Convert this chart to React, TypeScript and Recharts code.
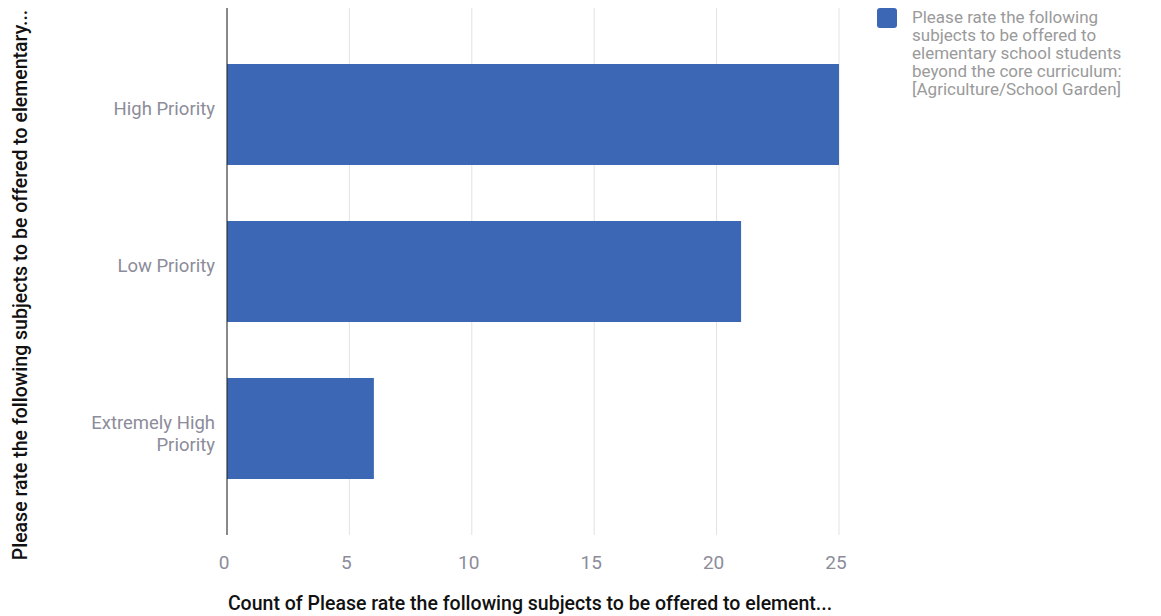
import React from 'react';
import { BarChart, Bar, XAxis, YAxis, CartesianGrid, Legend, Text } from 'recharts';

const categories = ['High Priority', 'Low Priority', 'Extremely High Priority'];
const counts = [25, 21, 6];
const xTicks = [0, 5, 10, 15, 20, 25];
const seriesName =
  'Please rate the following subjects to be offered to elementary school students beyond the core curriculum: [Agriculture/School Garden]';
const legendLines = [
  'Please rate the following',
  'subjects to be offered to',
  'elementary school students',
  'beyond the core curriculum:',
  '[Agriculture/School Garden]',
];
const xTitle = 'Count of Please rate the following subjects to be offered to element...';
const yTitle = 'Please rate the following subjects to be offered to elementary...';

const data = categories.map((c, i) => ({ name: c, count: counts[i] }));

const FONT = 'Roboto, "Noto Sans", sans-serif';
const BAR = '#3b67b4';

const CatTick = (props: any) => {
  const { x, y, payload } = props;
  return (
    <Text
      x={x - 4}
      y={y}
      width={150}
      textAnchor="end"
      verticalAnchor="middle"
      fill="#8c8c9a"
      fontSize={18.5}
      fontFamily={FONT}
      lineHeight={22}
    >
      {payload.value}
    </Text>
  );
};

const NumTick = (props: any) => {
  const { x, y, payload } = props;
  return (
    <text x={x - 3} y={y + 26} textAnchor="middle" fill="#8c8c9a" fontSize={19} fontFamily={FONT}>
      {payload.value}
    </text>
  );
};

const LegendContent = () => (
  <div style={{ display: 'flex', fontFamily: FONT }}>
    <div style={{ width: 20, height: 20, background: BAR, borderRadius: 3, flex: 'none' }} />
    <div style={{ marginLeft: 15, color: '#9a9a9a', fontSize: 17, lineHeight: '18px' }}>
      {legendLines.map((l, i) => (
        <div key={i} style={{ whiteSpace: 'nowrap' }}>{l}</div>
      ))}
    </div>
  </div>
);

export default function App() {
  return (
    <div style={{ position: 'absolute', left: 0, top: 0, width: 1161, height: 616, background: '#fff' }}>
      <BarChart
        width={1161}
        height={616}
        data={data}
        layout="vertical"
        margin={{ top: 8, right: 322, bottom: 0, left: 0 }}
      >
        <CartesianGrid horizontal={false} stroke="#e2e2e2" />
        <XAxis
          type="number"
          dataKey="count"
          domain={[0, 25]}
          ticks={xTicks}
          height={81}
          axisLine={false}
          tickLine={false}
          tick={<NumTick />}
          label={{
            content: () => (
              <text
                x={530}
                y={610}
                textAnchor="middle"
                fill="#111"
                fontSize={19.5}
                fontFamily={FONT}
                fontWeight={500}
              >
                {xTitle}
              </text>
            ),
          }}
        />
        <YAxis
          type="category"
          dataKey="name"
          width={227}
          padding={{ top: 28, bottom: 28 }}
          axisLine={{ stroke: '#222', strokeWidth: 1 }}
          tickLine={false}
          tick={<CatTick />}
          label={{
            content: () => (
              <text
                x={27}
                y={285}
                transform="rotate(-90 27 285)"
                textAnchor="middle"
                fill="#111"
                fontSize={19.5}
                fontFamily={FONT}
                fontWeight={500}
              >
                {yTitle}
              </text>
            ),
          }}
        />
        <Legend
          layout="vertical"
          align="center"
          verticalAlign="middle"
          content={<LegendContent />}
          wrapperStyle={{ position: 'absolute', left: 877, top: 8, width: 280, height: 95 }}
        />
        <Bar dataKey="count" name={seriesName} fill={BAR} barSize={101} isAnimationActive={false} />
      </BarChart>
    </div>
  );
}
